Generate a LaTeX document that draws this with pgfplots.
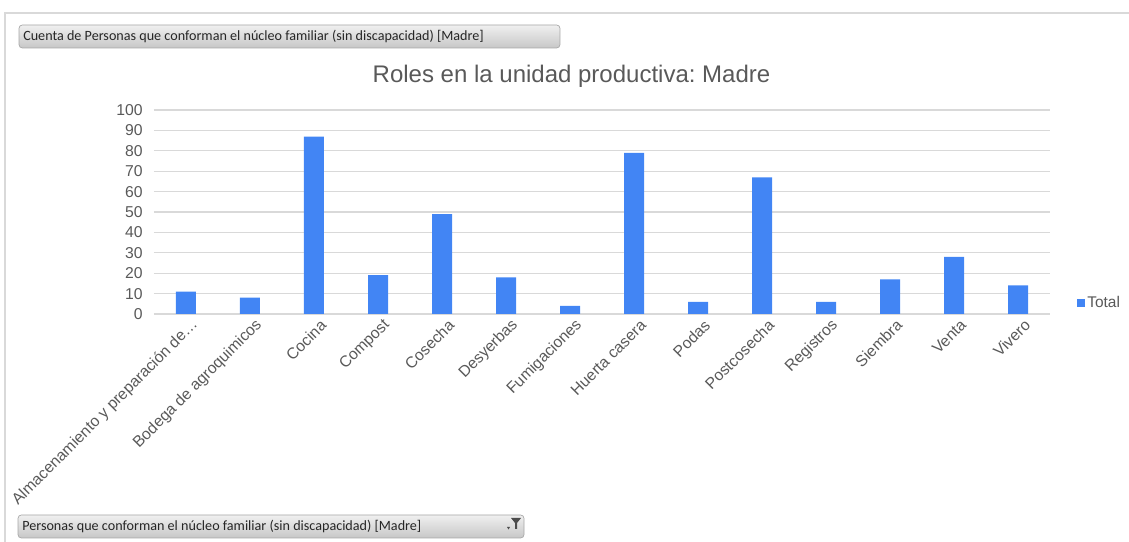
\documentclass[border=0pt]{standalone}
\usepackage{pgfplots}
\pgfplotsset{compat=1.18}
\usepackage{fontspec}
\setmainfont{Liberation Sans}
\newfontfamily\segoe{Carlito}
\definecolor{barblue}{RGB}{66,133,244}
\definecolor{ticktext}{RGB}{89,89,89}
\definecolor{gridgray}{RGB}{217,217,217}
\definecolor{titletext}{RGB}{89,89,89}
\frenchspacing
\begin{document}
\begin{tikzpicture}
\path[use as bounding box] (0pt,0pt) rectangle (846.75pt,406.5pt);
\begin{scope}[shift={(0pt,406.5pt)}, x=0.75pt, y=-0.75pt]
  \draw[gridgray, line width=0.8pt] (5,542) -- (5,13) -- (1129,13);
  % top pivot button
  \shade[top color=white!94!black, bottom color=white!78!black, rounded corners=2.5pt] (19,25) rectangle (560,48);
  \draw[white!65!black, line width=0.5pt, rounded corners=2.5pt] (19,25) rectangle (560,48);
  \node[anchor=west, inner sep=0pt, font=\segoe\fontsize{10.6pt}{12pt}\selectfont, text=black!85] at (23,36.5) {Cuenta de Personas que conforman el núcleo familiar (sin discapacidad) [Madre]};
  % bottom pivot button
  \shade[top color=white!94!black, bottom color=white!78!black, rounded corners=2.5pt] (18,515) rectangle (524,538);
  \draw[white!65!black, line width=0.5pt, rounded corners=2.5pt] (18,515) rectangle (524,538);
  \node[anchor=west, inner sep=0pt, font=\segoe\fontsize{10.6pt}{12pt}\selectfont, text=black!85] at (22,526.5) {Personas que conforman el núcleo familiar (sin discapacidad) [Madre]};
  \fill[black!70] (511,518) -- (521,518) -- (517,523) -- (517,529) -- (515,529) -- (515,523) -- cycle;
  \fill[black!70] (507,527) -- (510,527) -- (508.5,529.5) -- cycle;
  % title
  \node[anchor=base, inner sep=0pt, font=\fontsize{18pt}{22pt}\selectfont, text=titletext] at (571.5,83) {Roles en la unidad productiva: Madre};
\end{scope}
\begin{axis}[
  at={(115.5pt,171pt)}, anchor=south west,
  scale only axis, width=672pt, height=153pt,
  xmin=-0.5, xmax=13.5, ymin=0, ymax=100,
  ytick={0,10,...,100},
  xtick={0,...,13},
  xticklabels={Almacenamiento y preparación de…, Bodega de agroquimicos, Cocina, Compost, Cosecha, Desyerbas, Fumigaciones, Huerta casera, Podas, Postcosecha, Registros, Siembra, Venta, Vivero},
  /pgf/number format/assume math mode=true,
  tick label style={font=\fontsize{11.8pt}{14pt}\selectfont, text=ticktext},
  xticklabel style={rotate=45, anchor=east, inner sep=1pt, xshift=1.5pt, yshift=-9.5pt},
  yticklabel style={xshift=-5pt},
  major tick length=0pt,
  ymajorgrids, grid style={gridgray, line width=0.8pt},
  axis line style={draw=none},
  ybar, bar width=15pt,
  legend style={at={(1.030,0.054)}, anchor=west, draw=none, fill=none, font=\fontsize{11.6pt}{14pt}\selectfont, text=ticktext, inner sep=0pt},
  legend image code/.code={\fill[barblue] (0pt,-2.8pt) rectangle (5.6pt,2.8pt);},
]
\draw[gridgray, line width=0.8pt] (axis cs:-0.5,0) -- (axis cs:13.5,0);
\addplot[fill=barblue, draw=none] coordinates {
 (0,11) (1,8) (2,87) (3,19) (4,49) (5,18) (6,4) (7,79) (8,6) (9,67) (10,6) (11,17) (12,28) (13,14)
};
\addlegendentry{Total}
\end{axis}
\end{tikzpicture}
\end{document}
